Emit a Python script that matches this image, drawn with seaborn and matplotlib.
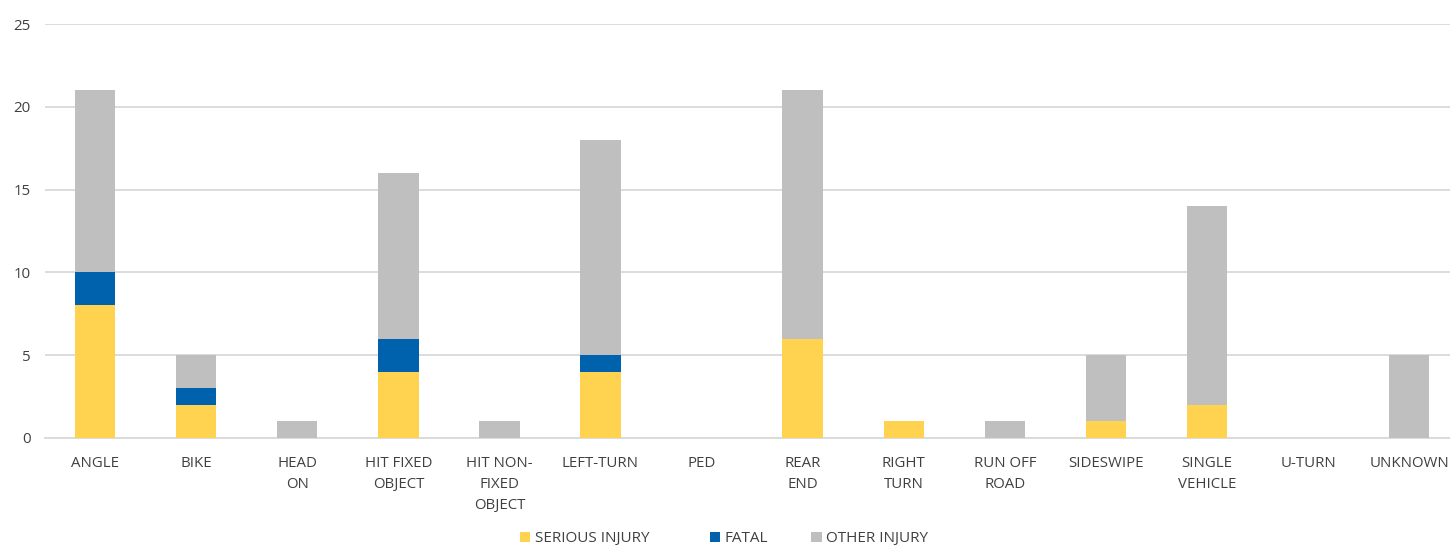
import matplotlib
matplotlib.use("Agg")
import matplotlib.pyplot as plt
import seaborn as sns
import numpy as np
import pandas as pd
from matplotlib.patches import Patch

categories = ["ANGLE", "BIKE", "HEAD\nON", "HIT FIXED\nOBJECT", "HIT NON-\nFIXED\nOBJECT",
              "LEFT-TURN", "PED", "REAR\nEND", "RIGHT\nTURN", "RUN OFF\nROAD",
              "SIDESWIPE", "SINGLE\nVEHICLE", "U-TURN", "UNKNOWN"]
serious_injury = [8, 2, 0, 4, 0, 4, 0, 6, 1, 0, 1, 2, 0, 0]
fatal = [2, 1, 0, 2, 0, 1, 0, 0, 0, 0, 0, 0, 0, 0]
other_injury = [11, 2, 1, 10, 1, 13, 0, 15, 0, 1, 4, 12, 0, 5]
series_names = ["SERIOUS INJURY", "FATAL", "OTHER INJURY"]
colors = ["#FFD34F", "#0062AC", "#BFBFBF"]
y_ticks = [0, 5, 10, 15, 20, 25]

sns.set_theme(style="white")
plt.rcParams["font.family"] = ["Open Sans", "DejaVu Sans"]
text_color = "#404040"

fig = plt.figure(figsize=(14.5, 5.46), dpi=100)
ax = fig.add_axes([0.0307, 0.198, 0.976, 0.758])

df = pd.DataFrame({"cat": categories, "s": serious_injury, "f": fatal, "o": other_injury})
b1 = np.zeros(len(categories))
b2 = np.array(serious_injury, dtype=float)
b3 = b2 + np.array(fatal, dtype=float)
for col, bottom, c in zip(["s", "f", "o"], [b1, b2, b3], colors):
    sns.barplot(data=df, x="cat", y=col, bottom=bottom, color=c, width=0.4,
                saturation=1, ax=ax, linewidth=0, zorder=3)

ax.set_ylim(0, 25)
ax.set_xlim(-0.5, len(categories) - 0.5)
ax.set_yticks(y_ticks)
ax.yaxis.grid(True, color="#D9D9D9", linewidth=1.3, zorder=0)
ax.xaxis.grid(False)
for s in ["top", "right", "left"]:
    ax.spines[s].set_visible(False)
ax.spines["bottom"].set_color("#D9D9D9")
ax.spines["bottom"].set_linewidth(1.3)
ax.set_xlabel("")
ax.set_ylabel("")
ax.tick_params(axis="both", length=0, colors=text_color, labelsize=10.8)
ax.tick_params(axis="x", pad=13)
ax.tick_params(axis="y", pad=10)
for lbl in ax.get_xticklabels():
    lbl.set_linespacing(1.55)
    lbl.set_va("top")

legend_x = [0.351, 0.482, 0.552]
for name, c, lx in zip(series_names, colors, legend_x):
    fig.legend([Patch(facecolor=c, edgecolor="none")], [name], loc="lower left",
               bbox_to_anchor=(lx, -0.020), frameon=False, fontsize=11.0,
               handlelength=0.7, handleheight=0.7, handletextpad=0.3,
               borderaxespad=0.3, labelcolor=text_color)

fig.savefig("out.png", dpi=100)
